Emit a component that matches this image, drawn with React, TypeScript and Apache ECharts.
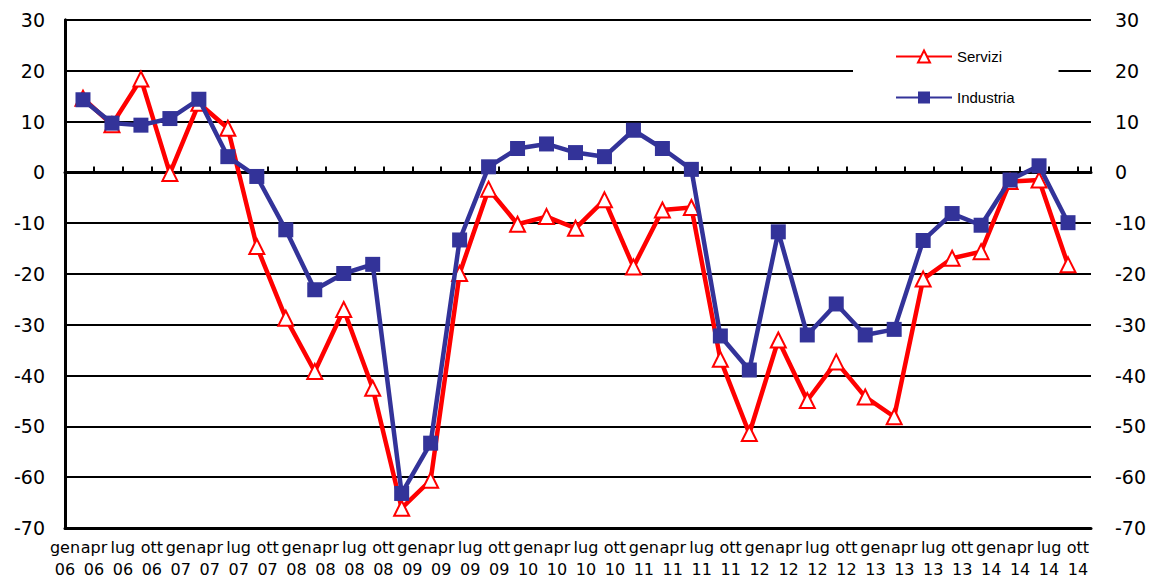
import React, { useEffect, useRef } from "react";
import * as echarts from "echarts";

const months = ["gen", "apr", "lug", "ott"];
const years = ["06", "07", "08", "09", "10", "11", "12", "13", "14"];
const tickLabels = years.flatMap((y) => months.map((m) => `${m}\n${y}`));
const pointCategories = tickLabels.slice(0, 35);

const servizi = [
  14.6, 9.4, 18.4, -0.2, 13.6, 8.7, -14.6, -28.7, -39.2, -27.0, -42.5,
  -66.1, -60.6, -19.9, -3.3, -10.2, -8.7, -11.0, -5.4, -18.6, -7.4, -6.9,
  -36.8, -51.4, -33.0, -44.9, -37.3, -44.2, -48.1, -21.0, -16.9, -15.6,
  -1.8, -1.5, -18.2,
];
const industria = [
  14.3, 9.7, 9.3, 10.6, 14.4, 3.1, -0.8, -11.3, -23.1, -19.9, -18.1,
  -63.2, -53.3, -13.3, 1.1, 4.7, 5.6, 3.9, 3.1, 8.3, 4.7, 0.6,
  -32.2, -38.9, -11.7, -32.0, -25.9, -32.0, -30.9, -13.4, -8.1, -10.4,
  -1.5, 1.3, -9.9,
];
const yMin = -70;
const yMax = 30;
const yStep = 10;

export default function App() {
  const ref = useRef<HTMLDivElement>(null);
  useEffect(() => {
    if (!ref.current) return;
    const chart = echarts.init(ref.current, null, { renderer: "svg" });
    const axisFont = "DejaVu Sans";
    chart.setOption({
      animation: false,
      backgroundColor: "#fff",
      grid: [
        { left: 65, right: 65, top: 20, bottom: 52, outerBoundsMode: "none", containLabel: false },
        { left: 68.5, right: 73.5, top: 20, bottom: 52, outerBoundsMode: "none", containLabel: false },
      ],
      legend: {
        data: ["Servizi", "Industria"],
        orient: "vertical",
        left: 853,
        top: 29,
        padding: [20, 44, 8, 42],
        backgroundColor: "#fff",
        itemWidth: 56,
        itemHeight: 15,
        itemGap: 26,
        selectedMode: false,
        textStyle: { fontFamily: "Liberation Sans", fontSize: 15, color: "#000" },
        z: 10,
      },
      xAxis: [
        {
          type: "value",
          gridIndex: 0,
          position: "bottom",
          min: 0,
          max: 35.45,
          interval: 1,
          axisLine: { show: true, onZero: false, lineStyle: { color: "#000", width: 3 } },
          axisTick: { show: false },
          splitLine: { show: false },
          axisLabel: {
            show: true,
            margin: 9,
            lineHeight: 21.5,
            fontFamily: axisFont,
            fontSize: 16,
            color: "#000",
            formatter: (v: number) =>
              Number.isInteger(v) && v < tickLabels.length ? tickLabels[v] : "",
          },
        },
        {
          type: "value",
          gridIndex: 0,
          position: "bottom",
          min: 0,
          max: 35.45,
          interval: 1,
          axisLine: { show: true, onZero: true, lineStyle: { color: "#000", width: 3 } },
          axisTick: { show: true, inside: true, length: 6, lineStyle: { color: "#000", width: 2 } },
          splitLine: { show: false },
          axisLabel: { show: false },
        },
        {
          type: "category",
          gridIndex: 1,
          data: pointCategories,
          boundaryGap: true,
          show: false,
        },
      ],
      yAxis: [
        {
          type: "value",
          gridIndex: 0,
          position: "left",
          min: yMin,
          max: yMax,
          interval: yStep,
          axisLine: { show: true, lineStyle: { color: "#000", width: 3 } },
          axisTick: { show: false },
          splitLine: { show: true, lineStyle: { color: "#000", width: 2 } },
          axisLabel: { margin: 20, fontFamily: axisFont, fontSize: 19, color: "#000" },
        },
        {
          type: "value",
          gridIndex: 0,
          position: "right",
          min: yMin,
          max: yMax,
          interval: yStep,
          axisLine: { show: true, lineStyle: { color: "#000", width: 3 } },
          axisTick: { show: true, length: 6, lineStyle: { color: "#000", width: 2 } },
          splitLine: { show: false },
          axisLabel: { margin: 24, fontFamily: axisFont, fontSize: 19, color: "#000" },
        },
        {
          type: "value",
          gridIndex: 1,
          min: yMin,
          max: yMax,
          interval: yStep,
          show: false,
          splitLine: { show: false },
        },
      ],
      series: [
        {
          name: "Servizi",
          type: "line",
          xAxisIndex: 2,
          yAxisIndex: 2,
          data: servizi,
          symbol: "emptyTriangle",
          symbolSize: 15,
          lineStyle: { color: "#FF0000", width: 4.5 },
          itemStyle: { color: "#FF0000", borderWidth: 2 },
          z: 3,
        },
        {
          name: "Industria",
          type: "line",
          xAxisIndex: 2,
          yAxisIndex: 2,
          data: industria,
          symbol: "rect",
          symbolSize: 15,
          lineStyle: { color: "#333399", width: 4.5 },
          itemStyle: { color: "#333399" },
          z: 4,
        },
      ],
    });
    return () => chart.dispose();
  }, []);
  return (
    <div
      ref={ref}
      style={{ position: "fixed", left: 0, top: 0, width: 1156, height: 580, background: "#fff" }}
    />
  );
}
